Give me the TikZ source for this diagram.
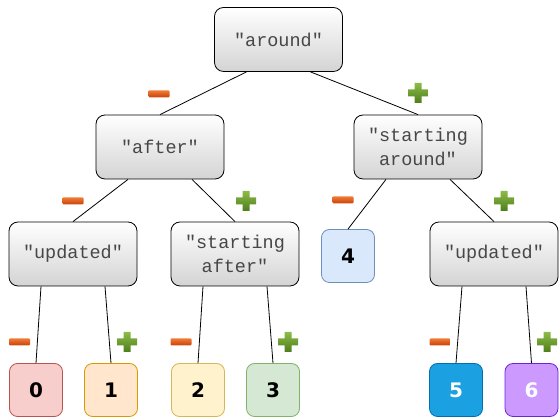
\documentclass[tikz,border=0pt]{standalone}
\usepackage{fontspec}
\newfontfamily\monofont{Liberation Mono}
\newfontfamily\digitfont{DejaVu Sans}
\definecolor{plustop}{HTML}{8CBB48}
\definecolor{plusbot}{HTML}{4E7E1B}
\definecolor{minustop}{HTML}{F07A35}
\definecolor{minusbot}{HTML}{C8410B}
\begin{document}
\begin{tikzpicture}[x=1pt,y=1pt,
  gbox/.style={draw=black, line width=0.8pt, rounded corners=9pt, top color=white, bottom color=black!17,
    minimum width=128pt, minimum height=64pt, inner sep=0pt, align=center,
    font=\monofont\fontsize{18.5}{24}\selectfont, text=black!72},
  leaf/.style={draw, line width=0.8pt, rounded corners=8pt, minimum width=53pt, minimum height=53pt,
    inner sep=0pt, font=\digitfont\bfseries\fontsize{20}{24}\selectfont},
  edge/.style={draw=black, line width=0.8pt},
  minussign/.style={shape=rectangle, minimum width=21pt, minimum height=7pt, inner sep=0pt,
    rounded corners=1pt, top color=minustop, bottom color=minusbot, draw=none},
  plussign/.pic={\path[top color=plustop, bottom color=plusbot]
    (-3.5,10)--(3.5,10)--(3.5,3.5)--(10,3.5)--(10,-3.5)--(3.5,-3.5)--(3.5,-10)--(-3.5,-10)
    --(-3.5,-3.5)--(-10,-3.5)--(-10,3.5)--(-3.5,3.5)--cycle;}
]
\useasboundingbox (0,0) rectangle (559,419);
% gray nodes
\node[gbox] (around) at (278.5,379.5) {"around"};
\node[gbox] (after) at (160,272) {"after"};
\node[gbox] (sa) at (418,272) {"starting\\around"};
\node[gbox] (upd1) at (73,165) {"updated"};
\node[gbox] (saf) at (235,165) {"starting\\after"};
\node[gbox] (upd2) at (494,165) {"updated"};
% leaves
\node[leaf, fill={rgb,255:red,248;green,206;blue,204}, draw={rgb,255:red,184;green,84;blue,80}] (l0) at (36,29) {0};
\node[leaf, fill={rgb,255:red,255;green,230;blue,204}, draw={rgb,255:red,215;green,155;blue,0}] (l1) at (111,29) {1};
\node[leaf, fill={rgb,255:red,255;green,242;blue,204}, draw={rgb,255:red,214;green,182;blue,86}] (l2) at (198,29) {2};
\node[leaf, fill={rgb,255:red,213;green,232;blue,212}, draw={rgb,255:red,130;green,179;blue,102}] (l3) at (273,29) {3};
\node[leaf, fill={rgb,255:red,218;green,232;blue,252}, draw={rgb,255:red,108;green,142;blue,191}] (l4) at (348,163) {4};
\node[leaf, fill={rgb,255:red,27;green,161;blue,226}, draw={rgb,255:red,0;green,110;blue,175}, text=white] (l5) at (456,29) {5};
\node[leaf, fill={rgb,255:red,204;green,153;blue,255}, draw={rgb,255:red,113;green,32;blue,220}, text=white] (l6) at (531.5,29) {6};
% edges
\draw[edge] ([xshift=-32pt]around.south) -- (after.north);
\draw[edge] ([xshift=32pt]around.south) -- (sa.north);
\draw[edge] ([xshift=-32pt]after.south) -- (upd1.north);
\draw[edge] ([xshift=32pt]after.south) -- (saf.north);
\draw[edge] ([xshift=-32pt]sa.south) -- (l4.north);
\draw[edge] ([xshift=32pt]sa.south) -- (upd2.north);
\draw[edge] ([xshift=-32pt]upd1.south) -- (l0.north);
\draw[edge] ([xshift=32pt]upd1.south) -- (l1.north);
\draw[edge] ([xshift=-32pt]saf.south) -- (l2.north);
\draw[edge] ([xshift=32pt]saf.south) -- (l3.north);
\draw[edge] ([xshift=-32pt]upd2.south) -- (l5.north);
\draw[edge] ([xshift=32pt]upd2.south) -- (l6.north);
% signs
\node[minussign] (m1) at (159,325) {};
\pic at (418,326) {plussign};
\node[minussign] (m2) at (73,218) {};
\pic at (246,218) {plussign};
\node[minussign] (m3) at (343,219) {};
\pic at (504,218) {plussign};
\node[minussign] (m4) at (19.5,77) {};
\pic at (127,77) {plussign};
\node[minussign] (m5) at (181,77) {};
\pic at (288,77) {plussign};
\node[minussign] (m6) at (440,77) {};
\pic at (547,77) {plussign};
\end{tikzpicture}
\end{document}
